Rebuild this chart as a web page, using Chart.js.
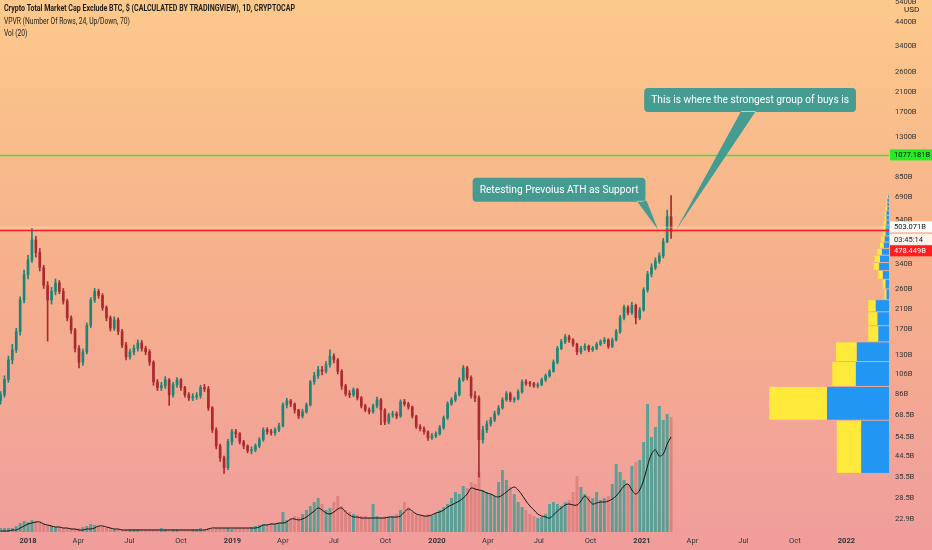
<!DOCTYPE html>
<html>
<head>
<meta charset="utf-8">
<script src="https://cdn.jsdelivr.net/npm/chart.js@4.4.1/dist/chart.umd.min.js"></script>
<style>
  html, body { margin: 0; padding: 0; background: #f6b18c; }
  #wrap { position: relative; width: 932px; height: 550px; overflow: hidden; }
  canvas { display: block; }
  .hdr { position: absolute; left: 4px; font-family: Roboto, "Open Sans", sans-serif; font-size: 8.5px; line-height: 12px; color: #1e1e1e; white-space: nowrap; transform-origin: 0 0; transform: scaleX(0.79); }
</style>
</head>
<body>
<div id="wrap">
  <canvas id="chart" width="932" height="550"></canvas>
  <div class="hdr" style="top:2px;font-weight:bold;transform:scaleX(0.83)">Crypto Total Market Cap Exclude BTC, $ (CALCULATED BY TRADINGVIEW), 1D, CRYPTOCAP</div>
  <div class="hdr" style="top:15px">VPVR (Number Of Rows, 24, Up/Down, 70)</div>
  <div class="hdr" style="top:27px">Vol (20)</div>
  <div class="hdr" style="left:904px;top:5px;font-size:8px;line-height:9px;transform:none">USD</div>
</div>
<script>
(function () {
    'use strict';

    const FONT = 'Roboto, "Open Sans", sans-serif';
    const UP = '#1a8678';
    const DOWN = '#ab2a30';
    const VOL_UP = 'rgba(32, 160, 148, 0.72)';
    const VOL_DOWN = 'rgba(196, 92, 92, 0.42)';
    const VP_UP = '#2196f3';
    const VP_DOWN = '#ffe93b';

    // weekly candles, x = days from 1 Jan 2018 (first one centred on 13 Nov 2017)
    const FIRST_DAY = -49;
    const WEEK = 7;
    const FIRST_OPEN = 80;

    // values in billions USD
    const closes = [
        85, 100, 123, 137, 166, 232, 303, 354, 438, 383,
        327, 271, 232, 254, 278, 254, 229, 192, 169, 139,
        120, 134, 177, 232, 254, 243, 214, 192, 172, 188,
        166, 144, 127, 134, 139, 147, 139, 134, 120, 97.5,
        91.8, 93.4, 99.6, 85, 94.5, 99.6, 91.8, 85, 82.3, 83.2,
        84.1, 91.8, 90.5, 74, 58.7, 49.5, 43.6, 39.3, 51.7, 57.5,
        56.3, 51.7, 49.5, 47, 47.5, 49.5, 52.8, 58.7, 57.5, 56.9,
        58.7, 61.2, 76.4, 79.7, 77.2, 72.4, 67.9, 71, 76.4, 97.5,
        104, 111, 109, 117, 128, 123, 109, 93.4, 86, 85,
        89.6, 82.3, 75.6, 72.4, 71, 75.6, 80.6, 72.4, 63.8, 68.7,
        69.5, 67.9, 78.9, 77.2, 74.8, 67.9, 60.6, 59.4, 57.5, 53.9,
        55.1, 56.3, 60, 66.6, 77.2, 80.6, 85, 99.6, 113, 102,
        84.1, 82.3, 52.8, 58.7, 62.5, 65.2, 69.5, 74, 80.6, 86,
        80.6, 81.5, 87.7, 97.5, 96, 95.5, 93.4, 94.5, 99.6, 104,
        109, 120, 139, 149, 157, 152, 145, 134, 139, 142,
        137, 139, 145, 149, 152, 142, 152, 166, 192, 214,
        203, 219, 192, 209, 258, 305, 327, 350, 370, 430,
        560, 478.449
    ];
    const highs = [
        88, 104, 128, 145, 172, 240, 318, 372, 495, 455,
        400, 335, 282, 265, 290, 285, 262, 234, 196, 172,
        143, 138, 182, 238, 262, 260, 248, 218, 196, 194,
        192, 170, 148, 138, 144, 152, 151, 142, 137, 122,
        100, 97, 103, 101, 97, 102, 101, 93, 87, 86,
        87, 94, 95, 93, 75, 60, 50.5, 44.5, 53, 59,
        59, 57, 52.5, 50, 49, 50.5, 54, 60, 60, 59,
        60, 63, 78, 82, 81, 78, 73, 73, 78, 99,
        108, 115, 115, 121, 137, 131, 125, 111, 95, 89,
        91.5, 91, 83.5, 77, 74, 77, 83, 82, 73.5, 70,
        71.5, 71, 80.6, 81, 78.5, 75.5, 68.5, 62, 60.5, 58,
        56.5, 57.5, 61.5, 68, 79, 82.5, 87.5, 102, 116, 115,
        104, 88, 84, 61, 64.5, 67, 71.5, 76, 82.5, 88,
        87.5, 83, 89.5, 99.5, 100, 98, 97, 96.5, 101.5, 106,
        111, 123, 142, 153, 161, 160, 154, 147, 142, 146,
        144, 142, 148, 152, 156, 154, 155, 170, 197, 220,
        218, 226, 222, 214, 264, 314, 340, 362, 382, 445,
        600, 700
    ];
    const lows = [
        77, 83, 97, 118, 133, 160, 225, 290, 345, 365,
        315, 262, 150, 222, 245, 248, 222, 186, 163, 134,
        113, 116, 131, 173, 226, 236, 208, 186, 167, 168,
        161, 140, 123, 124, 130, 135, 135, 130, 116, 94,
        89, 89, 91, 76, 83, 92, 89, 83, 80, 80,
        81, 82, 88, 72, 57, 48, 42, 37, 38.5, 50,
        54, 50.5, 48, 46, 45.5, 46.5, 48.5, 52, 56, 55.5,
        55.5, 57.5, 60.5, 74, 75, 70, 66, 66.5, 70, 75.5,
        95, 101, 105, 107, 114, 119, 106, 90, 84, 82.5,
        83.5, 80.5, 74, 71, 69.5, 70, 74, 62, 62, 62.5,
        67, 66, 67, 75.5, 73, 66.5, 59.5, 58, 56, 52.5,
        53, 54, 55.5, 59, 65.5, 76, 79, 84, 98, 99.5,
        82, 79, 35.6, 51, 57, 61, 64, 68.5, 73, 79.5,
        79, 78.5, 80.5, 86.5, 94, 93, 92, 91.5, 93.5, 98,
        102.5, 108, 118, 137, 146, 148, 142, 130, 131, 136,
        134, 134.5, 137, 143, 146, 139, 140, 150, 163, 188,
        198, 199, 180, 188, 206, 252, 296, 320, 342, 362,
        425, 445
    ];
    const volumes = [
        8, 8, 8, 8, 12, 18, 22, 20, 24, 22,
        18, 16, 14, 12, 10, 10, 8, 8, 8, 6,
        8, 10, 12, 16, 14, 12, 10, 8, 8, 6,
        6, 6, 6, 6, 6, 6, 6, 6, 6, 6,
        6, 8, 6, 6, 6, 6, 6, 6, 6, 6,
        6, 8, 6, 8, 6, 8, 8, 8, 8, 6,
        8, 8, 8, 8, 10, 12, 14, 16, 16, 18,
        16, 18, 40, 24, 26, 32, 30, 36, 44, 52,
        60, 68, 56, 44, 48, 60, 72, 52, 44, 40,
        36, 34, 32, 32, 28, 56, 32, 30, 32, 30,
        32, 36, 44, 60, 50, 40, 34, 32, 34, 36,
        32, 38, 44, 50, 56, 68, 80, 76, 92, 88,
        100, 96, 120, 84, 80, 76, 72, 100, 124, 104,
        90, 76, 60, 50, 44, 36, 32, 28, 30, 36,
        56, 60, 56, 52, 60, 64, 80, 112, 90, 76,
        72, 68, 80, 64, 68, 72, 96, 136, 120, 104,
        96, 132, 140, 144, 180, 256, 190, 210, 252, 224,
        236, 230
    ];
    const volumeMA = [
        2, 2, 2, 4, 4, 8, 12, 16, 18, 20,
        20, 16, 14, 12, 10, 10, 8, 8, 6, 6,
        4, 4, 6, 6, 8, 12, 12, 10, 8, 6,
        6, 4, 4, 4, 4, 4, 4, 4, 4, 4,
        4, 4, 4, 4, 4, 4, 4, 4, 4, 4,
        4, 4, 4, 6, 8, 8, 8, 8, 8, 8,
        8, 8, 8, 8, 8, 8, 10, 14, 14, 16,
        16, 18, 18, 20, 26, 26, 24, 26, 30, 36,
        42, 48, 44, 38, 36, 40, 46, 48, 40, 34,
        30, 30, 28, 28, 28, 28, 28, 28, 28, 30,
        30, 30, 32, 40, 46, 42, 36, 34, 32, 32,
        34, 38, 40, 44, 50, 54, 58, 62, 68, 76,
        88, 86, 84, 82, 78, 76, 72, 70, 74, 80,
        86, 90, 84, 74, 62, 52, 44, 36, 32, 30,
        28, 34, 42, 48, 54, 56, 54, 54, 62, 72,
        64, 56, 58, 60, 60, 62, 66, 72, 82, 92,
        96, 84, 76, 84, 104, 132, 156, 164, 152, 156,
        176, 190
    ];

    // volume profile, 24 rows from bottom to top
    const VP_LOW = 37;
    const VP_HIGH = 708;
    const vpUp = [31, 69, 37, 36, 12, 13, 15, 3, 4, 7, 11, 10, 8, 6, 5, 4, 4, 3, 3, 3, 2, 2, 2, 1];
    const vpDown = [27, 64, 26, 23, 11, 10, 8, 2, 3, 5, 6, 6, 5, 4, 4, 3, 3, 3, 2, 2, 2, 1, 1, 1];

    // axes
    const xTickDays = [0, 90, 181, 273, 365, 455, 546, 638, 730, 821, 912, 1004, 1096, 1186, 1277, 1369, 1461];
    const xTickLabels = ['2018', 'Apr', 'Jul', 'Oct', '2019', 'Apr', 'Jul', 'Oct', '2020', 'Apr', 'Jul', 'Oct', '2021', 'Apr', 'Jul', 'Oct', '2022'];
    const yTickValues = [5400, 4400, 3400, 2600, 2100, 1700, 1300, 850, 690, 540, 340, 260, 210, 170, 130, 106, 86, 68.5, 54.5, 44.5, 35.5, 28.5, 22.9];
    const yTickLabels = ['5400B', '4400B', '3400B', '2600B', '2100B', '1700B', '1300B', '850B', '690B', '540B', '340B', '260B', '210B', '170B', '130B', '106B', '86B', '68.5B', '54.5B', '44.5B', '35.5B', '28.5B', '22.9B'];

    // drawn levels
    const GREEN_LEVEL = 1077.181;
    const RED_LEVEL = 484;
    const LINE_LABEL = 503.071;
    const LAST_PRICE = '478.449B';
    const COUNTDOWN = '03:45:14';

    const callouts = [
        { text: 'Retesting Prevoius ATH as Support', day: 948, value: 745, tipDay: 1125, tipValue: 487, tail: [0.955, 1.0] },
        { text: 'This is where the strongest group of buys is', day: 1289, value: 1928, tipDay: 1157, tipValue: 487, tail: [0.463, 0.523] }
    ];

    const opens = closes.map((c, i) => (i === 0 ? FIRST_OPEN : closes[i - 1]));
    const dayOf = i => FIRST_DAY + WEEK * i;
    const isUp = i => closes[i] >= opens[i];

    const bgPlugin = {
        id: 'bg',
        beforeDraw(chart) {
            const ctx = chart.ctx;
            const g = ctx.createLinearGradient(0, 0, 0, chart.height);
            g.addColorStop(0, '#fcc98b');
            g.addColorStop(0.5, '#f6b08c');
            g.addColorStop(1, '#f09d9d');
            ctx.save();
            ctx.fillStyle = g;
            ctx.fillRect(0, 0, chart.width, chart.height);
            ctx.restore();
        }
    };

    function drawCallout(chart, c) {
        const ctx = chart.ctx;
        const x = chart.scales.x, y = chart.scales.y;
        const squeeze = 0.93;
        ctx.save();
        ctx.font = '11px ' + FONT;
        const w = ctx.measureText(c.text).width * squeeze + 14;
        const h = 24;
        const cx = x.getPixelForValue(c.day), cy = y.getPixelForValue(c.value);
        const left = cx - w / 2, top = cy - h / 2;
        const tx = x.getPixelForValue(c.tipDay), ty = y.getPixelForValue(c.tipValue);
        ctx.beginPath();
        ctx.roundRect(left, top, w, h, 4);
        ctx.moveTo(left + w * c.tail[0] - 1, top + h - 1);
        ctx.lineTo(tx, ty);
        ctx.lineTo(left + w * c.tail[1] + 1, top + h - 1);
        ctx.closePath();
        ctx.fillStyle = 'rgba(40, 150, 145, 0.86)';
        ctx.fill();
        ctx.fillStyle = '#ffffff';
        ctx.textAlign = 'center';
        ctx.textBaseline = 'middle';
        ctx.translate(cx, cy + 0.5);
        ctx.scale(squeeze, 1);
        ctx.fillText(c.text, 0, 0);
        ctx.restore();
    }

    const overlayPlugin = {
        id: 'overlay',
        afterDatasetsDraw(chart) {
            const ctx = chart.ctx;
            const area = chart.chartArea;
            const y = chart.scales.y;
            const vx = chart.scales.xvp;

            // volume profile, hugging the price axis
            const n = vpUp.length;
            const step = (VP_HIGH - VP_LOW) / n;
            const len = v => Math.abs(vx.getPixelForValue(v) - vx.getPixelForValue(0));
            ctx.save();
            for (let r = 0; r < n; r++) {
                const yb = y.getPixelForValue(VP_LOW + step * r);
                const yt = y.getPixelForValue(VP_LOW + step * (r + 1));
                const x0 = area.right;
                const x1 = x0 - len(vpUp[r]);
                const x2 = x0 - len(vpUp[r] + vpDown[r]);
                ctx.fillStyle = VP_UP;
                ctx.fillRect(x1, yt + 0.5, x0 - x1, yb - yt - 1);
                ctx.fillStyle = VP_DOWN;
                ctx.fillRect(x2, yt + 0.5, x1 - x2, yb - yt - 1);
            }

            // levels
            ctx.lineWidth = 1.5;
            ctx.strokeStyle = '#3ee63a';
            let ly = Math.round(y.getPixelForValue(GREEN_LEVEL)) + 0.5;
            ctx.beginPath(); ctx.moveTo(area.left, ly); ctx.lineTo(area.right, ly); ctx.stroke();
            ctx.strokeStyle = 'rgba(255, 236, 215, 0.35)';
            ctx.lineWidth = 2;
            ly = Math.round(y.getPixelForValue(RED_LEVEL)) + 0.5;
            ctx.beginPath(); ctx.moveTo(area.left, ly - 3); ctx.lineTo(area.right, ly - 3); ctx.stroke();
            ctx.strokeStyle = '#f21d1d';
            ctx.lineWidth = 1.5;
            ctx.beginPath(); ctx.moveTo(area.left, ly); ctx.lineTo(area.right, ly); ctx.stroke();
            ctx.restore();

            callouts.forEach(c => drawCallout(chart, c));
        },
        afterDraw(chart) {
            const ctx = chart.ctx;
            const area = chart.chartArea;
            const y = chart.scales.y;
            const left = area.right + 1;
            const w = chart.width - left;
            function tag(text, cy, bg, fg) {
                ctx.fillStyle = bg;
                ctx.fillRect(left, cy - 5.5, w, 11);
                ctx.fillStyle = fg;
                ctx.fillText(text, left + 4, cy + 0.5);
            }
            ctx.save();
            ctx.font = '7.5px ' + FONT;
            ctx.textBaseline = 'middle';
            ctx.textAlign = 'left';
            tag(GREEN_LEVEL.toFixed(3) + 'B', y.getPixelForValue(GREEN_LEVEL), '#22ee22', '#111');
            const wy = y.getPixelForValue(LINE_LABEL);
            tag(LINE_LABEL.toFixed(3) + 'B', wy, '#ffffff', '#111');
            tag(COUNTDOWN, wy + 12.5, 'rgba(255, 250, 245, 0.9)', '#222');
            tag(LAST_PRICE, wy + 24, '#ff1f1f', '#ffffff');
            ctx.restore();
        }
    };

    const colorAt = ctx => (isUp(ctx.dataIndex) ? UP : DOWN);
    const noPad = s => { s.paddingTop = 0; s.paddingBottom = 0; s.paddingLeft = 0; s.paddingRight = 0; };

    new Chart(document.getElementById('chart'), {
        type: 'bar',
        data: {
            datasets: [
                {
                    label: 'body',
                    data: closes.map((c, i) => ({ x: dayOf(i), y: [opens[i], c] })),
                    backgroundColor: colorAt,
                    barThickness: 2,
                    minBarLength: 1,
                    grouped: false,
                    order: 1
                },
                {
                    label: 'wick',
                    data: closes.map((c, i) => ({ x: dayOf(i), y: [lows[i], highs[i]] })),
                    backgroundColor: colorAt,
                    barThickness: 1,
                    grouped: false,
                    order: 2
                },
                {
                    type: 'line',
                    label: 'Vol MA',
                    data: volumeMA.map((v, i) => ({ x: dayOf(i), y: v })),
                    yAxisID: 'yv',
                    borderColor: '#141414',
                    borderWidth: 1,
                    pointRadius: 0,
                    tension: 0.35,
                    order: 3
                },
                {
                    label: 'Vol',
                    data: volumes.map((v, i) => ({ x: dayOf(i), y: v })),
                    yAxisID: 'yv',
                    backgroundColor: ctx => (isUp(ctx.dataIndex) ? VOL_UP : VOL_DOWN),
                    barPercentage: 0.75,
                    categoryPercentage: 1,
                    grouped: false,
                    order: 4
                }
            ]
        },
        options: {
            responsive: false,
            animation: false,
            layout: { padding: 0 },
            plugins: { legend: { display: false }, tooltip: { enabled: false } },
            scales: {
                x: {
                    type: 'linear',
                    min: -50,
                    max: 1537,
                    offset: false,
                    grid: { display: false, drawTicks: false },
                    border: { display: false },
                    afterBuildTicks: s => { s.ticks = xTickDays.map(v => ({ value: v })); },
                    afterFit: s => { s.height = 18; noPad(s); },
                    ticks: {
                        autoSkip: false,
                        maxRotation: 0,
                        padding: 5,
                        color: '#333',
                        font: ctx => ({ family: FONT, size: 7.5, weight: /^\d/.test(xTickLabels[ctx.index] || '') ? 'bold' : 'normal' }),
                        callback: (v, i) => xTickLabels[i]
                    }
                },
                xvp: {
                    type: 'linear',
                    axis: 'x',
                    position: 'bottom',
                    min: 0,
                    max: 889,
                    grid: { display: false, drawTicks: false },
                    border: { display: false },
                    ticks: { display: false },
                    afterFit: s => { s.height = 0; noPad(s); }
                },
                y: {
                    type: 'logarithmic',
                    position: 'right',
                    min: 19.9,
                    max: 5550,
                    grid: { display: false, drawTicks: false },
                    border: { display: false },
                    afterBuildTicks: s => { s.ticks = yTickValues.map(v => ({ value: v })); },
                    afterFit: s => { s.width = 43; noPad(s); },
                    ticks: {
                        autoSkip: false,
                        padding: 6,
                        color: '#333',
                        font: { family: FONT, size: 7.5 },
                        callback: (v, i) => yTickLabels[i]
                    }
                },
                yv: {
                    type: 'linear',
                    display: false,
                    min: 0,
                    max: 1064
                }
            }
        },
        plugins: [bgPlugin, overlayPlugin]
    });
})();
</script>
</body>
</html>
